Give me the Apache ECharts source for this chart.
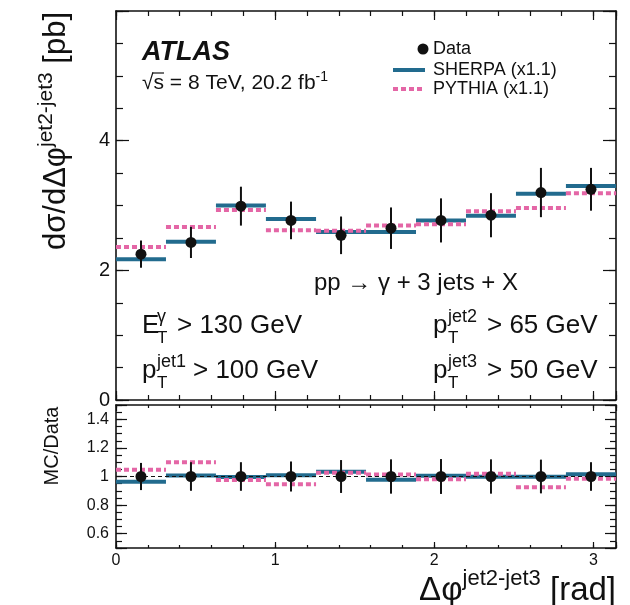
<!DOCTYPE html>
<html>
<head>
<meta charset="utf-8">
<script src="https://cdn.jsdelivr.net/npm/echarts@6/dist/echarts.min.js"></script>
<style>
  html, body { margin: 0; padding: 0; background: #fff; }
  #chart { width: 630px; height: 605px; }
</style>
</head>
<body>
<div id="chart"></div>
<script>
// bins in delta phi (jet2, jet3), rad
const binEdges = [0, 0.314, 0.628, 0.942, 1.257, 1.571, 1.885, 2.199, 2.513, 2.827, 3.142];

// cross section, pb
const dataValues = [2.25, 2.43, 2.99, 2.77, 2.54, 2.65, 2.77, 2.85, 3.20, 3.25];
const dataErrors = [0.21, 0.24, 0.30, 0.29, 0.29, 0.32, 0.34, 0.34, 0.38, 0.33];
const sherpaValues = [2.17, 2.44, 3.00, 2.79, 2.59, 2.59, 2.77, 2.84, 3.18, 3.30];
const pythiaValues = [2.36, 2.67, 2.93, 2.62, 2.61, 2.69, 2.71, 2.91, 2.96, 3.19];

// MC / data
const dataRatio = [1, 1, 1, 1, 1, 1, 1, 1, 1, 1];
const dataRatioErrors = [0.095, 0.10, 0.10, 0.105, 0.115, 0.12, 0.122, 0.12, 0.118, 0.10];
const sherpaRatio = [0.963, 1.007, 0.997, 1.009, 1.034, 0.977, 1.005, 0.998, 0.998, 1.016];
const pythiaRatio = [1.048, 1.10, 0.975, 0.945, 1.027, 1.014, 0.980, 1.020, 0.925, 0.985];

// tick labels
const xTickLabels = [0, 1, 2, 3];
const mainTickLabels = [0, 2, 4];
const ratioTickLabels = [0.6, 0.8, 1, 1.2, 1.4];

const FONT = '"Liberation Sans", Arial, Helvetica, sans-serif';
const INK = "#111";
const SHERPA = "#226b8e";
const PYTHIA = "#e466a6";

const binCenters = binEdges.slice(0, -1).map((e, i) => (e + binEdges[i + 1]) / 2);

function steps(values) {
  return values.map((v, i) => [binEdges[i], binEdges[i + 1], v]);
}

function stepSeries(values, axis, color, dash) {
  return {
    type: "custom",
    xAxisIndex: axis.x,
    yAxisIndex: axis.y,
    data: steps(values),
    encode: { x: [0, 1], y: 2 },
    animation: false,
    renderItem: (params, api) => {
      const a = api.coord([api.value(0), api.value(2)]);
      const b = api.coord([api.value(1), api.value(2)]);
      return {
        type: "line",
        shape: { x1: a[0], y1: a[1], x2: b[0], y2: b[1] },
        style: { stroke: color, lineWidth: 4, lineDash: dash || null },
      };
    },
  };
}

function errorSeries(values, errors, axis) {
  return {
    type: "custom",
    xAxisIndex: axis.x,
    yAxisIndex: axis.y,
    data: values.map((v, i) => [binCenters[i], v - errors[i], v + errors[i]]),
    encode: { x: 0, y: [1, 2] },
    animation: false,
    renderItem: (params, api) => {
      const lo = api.coord([api.value(0), api.value(1)]);
      const hi = api.coord([api.value(0), api.value(2)]);
      return {
        type: "line",
        shape: { x1: lo[0], y1: lo[1], x2: hi[0], y2: hi[1] },
        style: { stroke: INK, lineWidth: 2 },
      };
    },
  };
}

function pointSeries(values, axis, extra) {
  return Object.assign(
    {
      type: "scatter",
      xAxisIndex: axis.x,
      yAxisIndex: axis.y,
      data: values.map((v, i) => [binCenters[i], v]),
      symbol: "circle",
      symbolSize: 11,
      itemStyle: { color: INK, opacity: 1 },
      animation: false,
    },
    extra || {},
  );
}

// frame axis helpers, ticks inside on all four sides
function xAxisDef(grid, pos, interval, tickLen, opt) {
  return Object.assign(
    {
      type: "value",
      gridIndex: grid,
      position: pos,
      min: 0,
      max: Math.PI,
      interval: interval,
      axisLine: { show: true, onZero: false, lineStyle: { color: INK, width: 1.6 } },
      axisTick: { show: true, inside: true, length: tickLen, lineStyle: { color: INK, width: 1.2 } },
      axisLabel: { show: false },
      splitLine: { show: false },
    },
    opt || {},
  );
}

function yAxisDef(grid, pos, range, interval, tickLen, opt) {
  return Object.assign(
    {
      type: "value",
      gridIndex: grid,
      position: pos,
      min: range[0],
      max: range[1],
      interval: interval,
      axisLine: { show: true, onZero: false, lineStyle: { color: INK, width: 1.6 } },
      axisTick: { show: true, inside: true, length: tickLen, lineStyle: { color: INK, width: 1.2 } },
      axisLabel: { show: false },
      splitLine: { show: false },
    },
    opt || {},
  );
}

function isIn(list, v) {
  return list.some((t) => Math.abs(t - v) < 1e-6);
}

const xLabel = {
  show: true,
  fontSize: 16,
  fontFamily: FONT,
  color: INK,
  margin: 5,
  formatter: (v) => (isIn(xTickLabels, v) ? String(Math.round(v)) : ""),
};

const mainLabel = {
  show: true,
  fontSize: 20,
  fontFamily: FONT,
  color: INK,
  margin: 6,
  formatter: (v) => (isIn(mainTickLabels, v) ? String(Math.round(v)) : ""),
};

const ratioLabel = {
  show: true,
  fontSize: 16,
  fontFamily: FONT,
  color: INK,
  margin: 7,
  formatter: (v) => {
    if (!isIn(ratioTickLabels, v)) return "";
    const r = Math.round(v * 10) / 10;
    return r === 1 ? "1" : r.toFixed(1);
  },
};

const noLine = { show: false, onZero: false };

const xAxes = [
  // top panel
  xAxisDef(0, "bottom", 1, 9),
  xAxisDef(0, "top", 1, 9),
  xAxisDef(0, "bottom", 0.2, 5, { axisLine: noLine }),
  xAxisDef(0, "top", 0.2, 5, { axisLine: noLine }),
  // ratio panel
  xAxisDef(1, "bottom", 1, 6, { axisLabel: xLabel }),
  xAxisDef(1, "top", 1, 6),
  xAxisDef(1, "bottom", 0.2, 3, { axisLine: noLine }),
  xAxisDef(1, "top", 0.2, 3, { axisLine: noLine }),
];

const yAxes = [
  yAxisDef(0, "left", [0, 6], 2, 13, { axisLabel: mainLabel }),
  yAxisDef(0, "right", [0, 6], 2, 13),
  yAxisDef(0, "left", [0, 6], 0.5, 7, { axisLine: noLine }),
  yAxisDef(0, "right", [0, 6], 0.5, 7, { axisLine: noLine }),
  // ratio: major ticks every 0.2 (auto interval), minor every 0.05
  yAxisDef(1, "left", [0.5, 1.5], undefined, 11, { splitNumber: 5, axisLabel: ratioLabel }),
  yAxisDef(1, "right", [0.5, 1.5], undefined, 11, { splitNumber: 5 }),
  yAxisDef(1, "left", [0.5, 1.5], 0.05, 6, { axisLine: noLine }),
  yAxisDef(1, "right", [0.5, 1.5], 0.05, 6, { axisLine: noLine }),
];

const MAIN = { x: 0, y: 0 };
const RATIO = { x: 4, y: 4 };

function txt(x, y, text, size, extra) {
  return {
    type: "text",
    x: x,
    y: y,
    silent: true,
    style: Object.assign(
      {
        text: text,
        fontSize: size,
        fontFamily: FONT,
        fill: INK,
        align: "left",
        verticalAlign: "middle",
      },
      extra || {},
    ),
  };
}

// p_T^{sup} / E_T^{sup} style label: main letter, stacked sup + sub, then the rest
function cutLabel(x, y, letter, sup, xRest, rest) {
  return [
    txt(x, y, letter, 26),
    txt(x + 15, y - 9, sup, 18),
    txt(x + 15, y + 12, "T", 17),
    txt(xRest, y, rest, 26),
  ];
}

const graphics = [
  txt(142, 53, "ATLAS", 27, { fontWeight: "bold", fontStyle: "italic" }),
  txt(142, 83, "{m|√s = 8 TeV, 20.2 fb}{s|-1}", 21, {
    rich: {
      m: { fontSize: 21, fontFamily: FONT, fill: INK },
      s: { fontSize: 14, fontFamily: FONT, fill: INK, padding: [0, 0, 12, 0] },
    },
  }),
  // overline of the square root
  { type: "line", silent: true, shape: { x1: 152, y1: 73, x2: 164, y2: 73 }, style: { stroke: INK, lineWidth: 1.2 } },
  // legend
  { type: "circle", silent: true, shape: { cx: 423, cy: 49, r: 5.5 }, style: { fill: INK } },
  { type: "line", silent: true, shape: { x1: 393, y1: 70, x2: 425, y2: 70 }, style: { stroke: SHERPA, lineWidth: 4 } },
  { type: "line", silent: true, shape: { x1: 393, y1: 89, x2: 425, y2: 89 }, style: { stroke: PYTHIA, lineWidth: 4, lineDash: [5, 3] } },
  txt(433, 49, "Data", 18),
  txt(433, 70, "SHERPA (x1.1)", 18),
  txt(433, 89, "PYTHIA (x1.1)", 18),
  // process and cuts
  txt(416, 283, "pp → γ + 3 jets + X", 24, { align: "center" }),
  ...cutLabel(142, 326, "E", "γ", 177, "> 130 GeV"),
  ...cutLabel(142, 371, "p", "jet1", 193, "> 100 GeV"),
  ...cutLabel(433, 326, "p", "jet2", 487, "> 65 GeV"),
  ...cutLabel(433, 371, "p", "jet3", 487, "> 50 GeV"),
  // axis titles
  {
    type: "text",
    x: 56,
    y: 12,
    rotation: Math.PI / 2,
    silent: true,
    style: {
      text: "{m|dσ/dΔφ}{s|jet2-jet3}{m| [pb]}",
      align: "right",
      verticalAlign: "middle",
      fill: INK,
      rich: {
        m: { fontSize: 31, fontFamily: FONT, fill: INK },
        s: { fontSize: 21, fontFamily: FONT, fill: INK, padding: [0, 0, 20, 0] },
      },
    },
  },
  {
    type: "text",
    x: 52,
    y: 446,
    rotation: Math.PI / 2,
    silent: true,
    style: {
      text: "MC/Data",
      fontSize: 20,
      fontFamily: FONT,
      fill: INK,
      align: "center",
      verticalAlign: "middle",
    },
  },
  {
    type: "text",
    x: 616,
    y: 591,
    silent: true,
    style: {
      text: "{m|Δφ}{s|jet2-jet3}{m| [rad]}",
      align: "right",
      verticalAlign: "middle",
      fill: INK,
      rich: {
        m: { fontSize: 33, fontFamily: FONT, fill: INK },
        s: { fontSize: 22, fontFamily: FONT, fill: INK, padding: [0, 0, 24, 0] },
      },
    },
  },
];

const chart = echarts.init(document.getElementById("chart"), null, { renderer: "canvas" });
chart.setOption({
  backgroundColor: "#fff",
  animation: false,
  grid: [
    { left: 116, top: 11, width: 500, height: 389, containLabel: false, outerBoundsMode: "none" },
    { left: 116, top: 405, width: 500, height: 143, containLabel: false, outerBoundsMode: "none" },
  ],
  xAxis: xAxes,
  yAxis: yAxes,
  series: [
    stepSeries(sherpaValues, MAIN, SHERPA),
    stepSeries(pythiaValues, MAIN, PYTHIA, [5, 3]),
    errorSeries(dataValues, dataErrors, MAIN),
    pointSeries(dataValues, MAIN),

    stepSeries(sherpaRatio, RATIO, SHERPA),
    stepSeries(pythiaRatio, RATIO, PYTHIA, [5, 3]),
    errorSeries(dataRatio, dataRatioErrors, RATIO),
    pointSeries(dataRatio, RATIO, {
      markLine: {
        silent: true,
        symbol: "none",
        animation: false,
        label: { show: false },
        lineStyle: { type: [4, 3], color: INK, width: 1.2 },
        data: [{ yAxis: 1 }],
      },
    }),
  ],
  graphic: graphics,
});
</script>
</body>
</html>
